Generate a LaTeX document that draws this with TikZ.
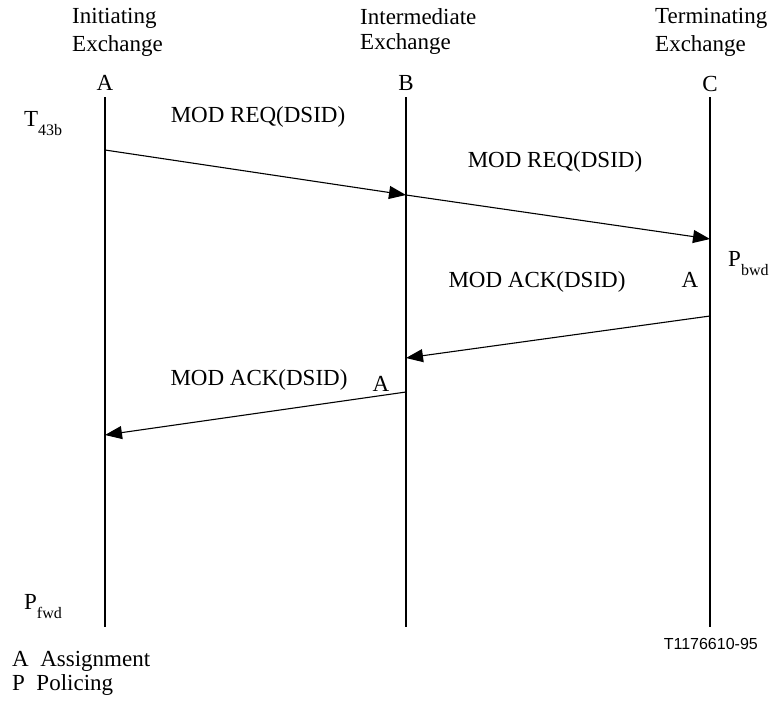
\documentclass[tikz,border=0pt]{standalone}
\usepackage{fontspec}
\setmainfont{Liberation Serif}
\newfontfamily\labelfont{Liberation Sans}
\usetikzlibrary{arrows.meta}
\newcommand\lowsub[1]{\raisebox{-9pt}{\fontsize{16}{16}\selectfont #1}}

\begin{document}
\begin{tikzpicture}[x=1pt, y=-1pt,
    every node/.style={inner sep=0pt, font=\fontsize{23}{27}\selectfont},
    lifeline/.style={line width=1.8pt},
    msg/.style={line width=1.1pt, -{Triangle[length=17pt, width=13pt]}}]
    \useasboundingbox (0, 0) rectangle (776, 717);

    % exchanges
    \node[anchor=west] (initA) at (72, 18) {Initiating};
    \node[anchor=west] (initB) at (72, 46) {Exchange};
    \node[anchor=west] (interA) at (360, 17) {Intermediate};
    \node[anchor=west] (interB) at (360, 44) {Exchange};
    \node[anchor=west] (termA) at (655, 18) {Terminating};
    \node[anchor=west] (termB) at (655, 46) {Exchange};
    \node (A) at (105, 83) {A};
    \node (B) at (406, 83) {B};
    \node (C) at (710, 84) {C};

    \coordinate (Atop) at (105, 97);
    \coordinate (Abot) at (105, 627);
    \coordinate (Btop) at (406, 97);
    \coordinate (Bbot) at (406, 627);
    \coordinate (Ctop) at (710, 97);
    \coordinate (Cbot) at (710, 627);
    \draw[lifeline] (Atop) -- (Abot);
    \draw[lifeline] (Btop) -- (Bbot);
    \draw[lifeline] (Ctop) -- (Cbot);

    % messages
    \coordinate (req1s) at (105, 150);
    \coordinate (req1e) at (406, 195);
    \coordinate (req2e) at (710, 239);
    \coordinate (ack1s) at (710, 316);
    \coordinate (ack1e) at (406, 358);
    \coordinate (ack2s) at (406, 392);
    \coordinate (ack2e) at (105, 435);
    \draw[msg] (req1s) -- (req1e);
    \draw[msg] (req1e) -- (req2e);
    \draw[msg] (ack1s) -- (ack1e);
    \draw[msg] (ack2s) -- (ack2e);

    \node (req1) at (258, 117) {MOD REQ(DSID)};
    \node (req2) at (555, 162) {MOD REQ(DSID)};
    \node (ack1) at (537, 282) {MOD ACK(DSID)};
    \node (assC) at (690, 280) {A};
    \node (ack2) at (259, 380) {MOD ACK(DSID)};
    \node (assB) at (381, 384) {A};

    % timers and policing
    \node[anchor=west] (T43b) at (24, 124) {T\lowsub{43b}};
    \node[anchor=west] (Pbwd) at (728, 264) {P\lowsub{bwd}};
    \node[anchor=west] (Pfwd) at (24, 607) {P\lowsub{fwd}};

    \node[anchor=east, font=\labelfont\fontsize{16}{18}\selectfont] (ref) at (758, 644) {T1176610-95};

    % legend
    \node[anchor=west] (legA) at (12, 661) {A\ \ Assignment};
    \node[anchor=west] (legP) at (12, 685) {P\ \ Policing};
  \end{tikzpicture}
\end{document}
